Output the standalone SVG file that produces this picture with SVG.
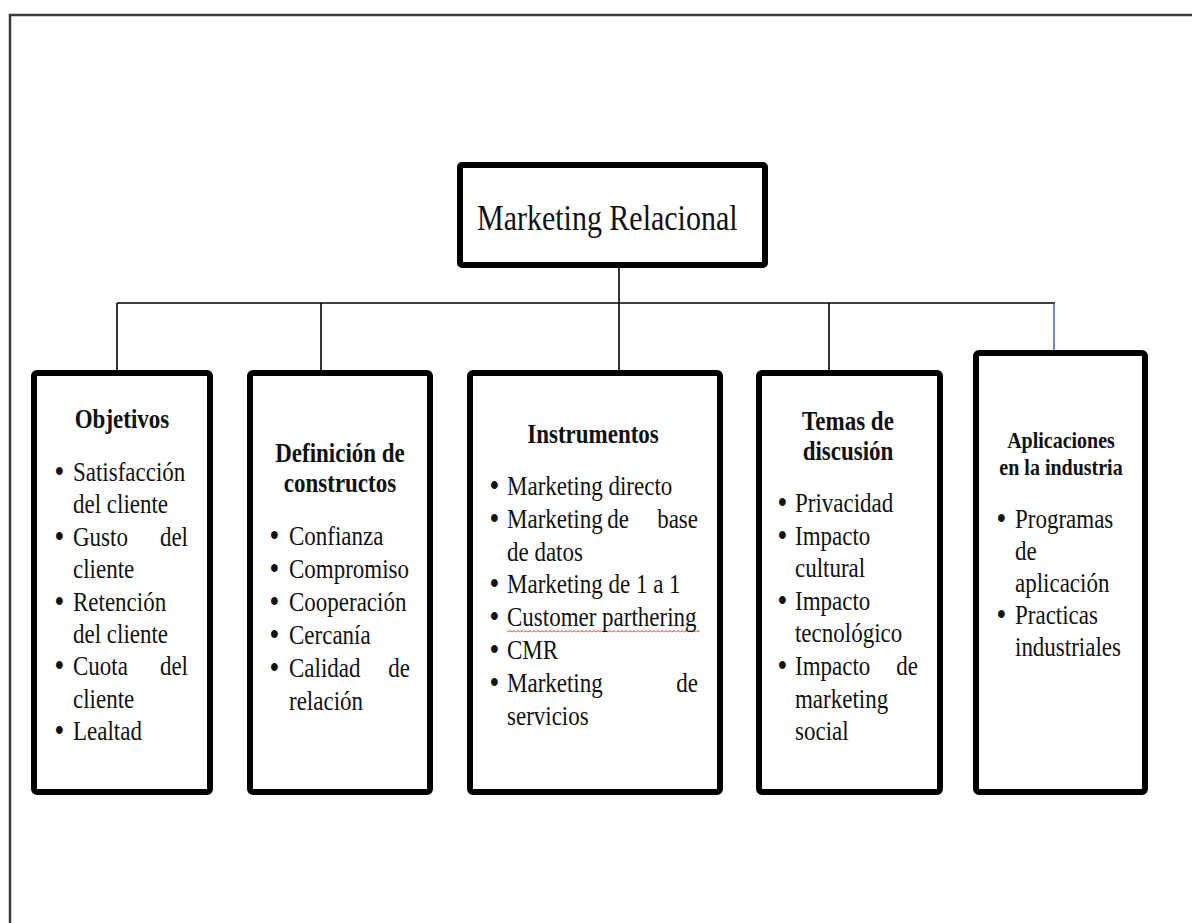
<svg xmlns="http://www.w3.org/2000/svg" width="1192" height="923" viewBox="0 0 1192 923">
<style>
.frame{fill:none;stroke:#3a3a3a;stroke-width:2.5}
.box{fill:#fff;stroke:#000;stroke-width:6}
.wire{fill:none;stroke:#000;stroke-width:1.6}
.blue{fill:none;stroke:#4472C4;stroke-width:1.6}
text{font-family:"Liberation Serif","Times New Roman",serif;font-size:23px;fill:#111}
.b{font-weight:bold}
.m{text-anchor:middle}
.e{text-anchor:end}
.s{font-size:20px}
.big{font-size:30px}
.d{font-weight:bold;font-size:25px}
</style>
<defs>
<pattern id="wave" x="0" y="0" width="4" height="3" patternUnits="userSpaceOnUse">
<path d="M0,2.5 L2,0.5 L4,2.5" fill="none" stroke="#e02020" stroke-width="1"/>
</pattern>
</defs>
<rect width="1192" height="923" fill="#fff"/>
<rect class="frame" x="10" y="15" width="1200" height="950"/>

<g id="connectors">
<line class="wire" x1="619" y1="248" x2="619" y2="303"/>
<line class="wire" x1="117" y1="303" x2="1055" y2="303"/>
<line class="wire" x1="117" y1="303" x2="117" y2="371"/>
<line class="wire" x1="321" y1="303" x2="321" y2="371"/>
<line class="wire" x1="619" y1="303" x2="619" y2="371"/>
<line class="wire" x1="829" y1="303" x2="829" y2="371"/>
<line class="blue" x1="1054" y1="303" x2="1054" y2="351"/>
</g>

<g id="main">
<rect class="box" x="460" y="165" width="305" height="100" rx="2"/>
<g transform="scale(1,1.17)">
<text class="big" x="477" y="196.58">Marketing Relacional</text>
</g>
</g>

<g id="objetivos">
<rect class="box" x="34" y="373" width="176" height="419" rx="3"/>
<g transform="scale(1,1.17)">
<text class="b m" x="122" y="365.81">Objetivos</text>
<text class="d" x="55" y="411.11">•</text><text x="73" y="411.11">Satisfacción</text>
<text x="73" y="438.80">del cliente</text>
<text class="d" x="55" y="466.50">•</text><text x="73" y="466.50">Gusto</text><text class="e" x="188" y="466.50">del</text>
<text x="73" y="494.19">cliente</text>
<text class="d" x="55" y="521.88">•</text><text x="73" y="521.88">Retención</text>
<text x="73" y="549.57">del cliente</text>
<text class="d" x="55" y="577.26">•</text><text x="73" y="577.26">Cuota</text><text class="e" x="188" y="577.26">del</text>
<text x="73" y="604.96">cliente</text>
<text class="d" x="55" y="632.65">•</text><text x="73" y="632.65">Lealtad</text>
</g>
</g>

<g id="definicion">
<rect class="box" x="250" y="373" width="180" height="419" rx="3"/>
<g transform="scale(1,1.17)">
<text class="b m" x="340" y="394.87">Definición de</text>
<text class="b m" x="340" y="420.51">constructos</text>
<text class="d" x="270" y="465.81">•</text><text x="289" y="465.81">Confianza</text>
<text class="d" x="270" y="494.02">•</text><text x="289" y="494.02">Compromiso</text>
<text class="d" x="270" y="522.22">•</text><text x="289" y="522.22">Cooperación</text>
<text class="d" x="270" y="550.43">•</text><text x="289" y="550.43">Cercanía</text>
<text class="d" x="270" y="578.63">•</text><text x="289" y="578.63">Calidad</text><text class="e" x="410" y="578.63">de</text>
<text x="289" y="606.84">relación</text>
</g>
</g>

<g id="instrumentos">
<rect class="box" x="470" y="373" width="250" height="419" rx="3"/>
<rect x="507" y="629.5" width="193" height="3" fill="url(#wave)"/>
<g transform="scale(1,1.17)">
<text class="b m" x="593" y="378.63">Instrumentos</text>
<text class="d" x="490" y="423.08">•</text><text x="507" y="423.08">Marketing directo</text>
<text class="d" x="490" y="451.11">•</text><text x="507" y="451.11">Marketing</text><text class="m" x="618" y="451.11">de</text><text class="e" x="698" y="451.11">base</text>
<text x="507" y="479.15">de datos</text>
<text class="d" x="490" y="507.18">•</text><text x="507" y="507.18">Marketing de 1 a 1</text>
<text class="d" x="490" y="535.21">•</text><text x="507" y="535.21">Customer parthering</text>
<text class="d" x="490" y="563.25">•</text><text x="507" y="563.25">CMR</text>
<text class="d" x="490" y="591.28">•</text><text x="507" y="591.28">Marketing</text><text class="e" x="698" y="591.28">de</text>
<text x="507" y="619.32">servicios</text>
</g>
</g>

<g id="temas">
<rect class="box" x="759" y="373" width="181" height="419" rx="3"/>
<g transform="scale(1,1.17)">
<text class="b m" x="848" y="367.52">Temas de</text>
<text class="b m" x="848" y="393.16">discusión</text>
<text class="d" x="778" y="437.61">•</text><text x="795" y="437.61">Privacidad</text>
<text class="d" x="778" y="465.47">•</text><text x="795" y="465.47">Impacto</text>
<text x="795" y="493.33">cultural</text>
<text class="d" x="778" y="521.20">•</text><text x="795" y="521.20">Impacto</text>
<text x="795" y="549.06">tecnológico</text>
<text class="d" x="778" y="576.92">•</text><text x="795" y="576.92">Impacto</text><text class="e" x="918" y="576.92">de</text>
<text x="795" y="604.79">marketing</text>
<text x="795" y="632.65">social</text>
</g>
</g>

<g id="aplicaciones">
<rect class="box" x="976" y="353" width="169" height="439" rx="3"/>
<g transform="scale(1,1.17)">
<text class="b m s" x="1061" y="382.91">Aplicaciones</text>
<text class="b m s" x="1061" y="405.98">en la industria</text>
<text class="d" x="997" y="451.28">•</text><text x="1015" y="451.28">Programas</text>
<text x="1015" y="478.63">de</text>
<text x="1015" y="505.98">aplicación</text>
<text class="d" x="997" y="533.33">•</text><text x="1015" y="533.33">Practicas</text>
<text x="1015" y="560.68">industriales</text>
</g>
</g>
</svg>
